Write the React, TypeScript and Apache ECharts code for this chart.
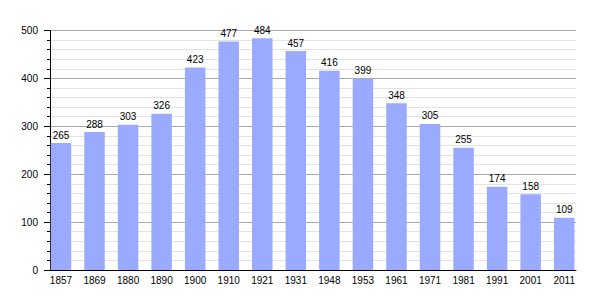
import React, { useEffect, useRef } from "react";
import * as echarts from "echarts";

const years = ["1857", "1869", "1880", "1890", "1900", "1910", "1921", "1931", "1948", "1953", "1961", "1971", "1981", "1991", "2001", "2011"];
const population = [265, 288, 303, 326, 423, 477, 484, 457, 416, 399, 348, 305, 255, 174, 158, 109];
const yMin = 0;
const yMax = 500;
const yInterval = 100;

export default function App() {
  const ref = useRef<HTMLDivElement>(null);
  useEffect(() => {
    if (!ref.current) return;
    const chart = echarts.init(ref.current, undefined, { renderer: "svg" });
    const font = "'Liberation Sans', Arial, Helvetica, sans-serif";
    chart.setOption({
      animation: false,
      backgroundColor: "#ffffff",
      textStyle: { fontFamily: font },
      grid: [
        { left: 50, top: 30.5, width: 526, height: 239.5 },
        { left: 44.2, top: 30.5, width: 536.8, height: 239.5 },
      ],
      xAxis: [
        {
          gridIndex: 0,
          type: "category",
          data: years,
          axisLine: { show: true, lineStyle: { color: "#000", width: 1 } },
          axisTick: { show: false },
          axisLabel: { show: false },
          splitLine: { show: false },
        },
        {
          gridIndex: 1,
          type: "category",
          data: years,
          axisLine: { show: false },
          axisTick: { show: false },
          axisLabel: { show: true, color: "#000", fontSize: 10, margin: 5, fontFamily: font, interval: 0 },
          splitLine: { show: false },
        },
      ],
      yAxis: [
        {
          gridIndex: 0,
          type: "value",
          min: yMin,
          max: yMax,
          interval: yInterval,
          axisLine: { show: true, lineStyle: { color: "#000", width: 1 } },
          axisTick: { show: true, length: 6, lineStyle: { color: "#000" } },
          minorTick: { show: true, splitNumber: 5, length: 3, lineStyle: { color: "#000" } },
          axisLabel: { color: "#000", fontSize: 10, margin: 12, fontFamily: font },
          splitLine: { show: true, lineStyle: { color: "#aaaaaa", width: 1 } },
          minorSplitLine: { show: true, lineStyle: { color: "#e3e3e3", width: 1 } },
        },
        {
          gridIndex: 1,
          type: "value",
          min: yMin,
          max: yMax,
          interval: yInterval,
          show: false,
          splitLine: { show: false },
        },
      ],
      series: [
        {
          type: "bar",
          xAxisIndex: 1,
          yAxisIndex: 1,
          data: population,
          barWidth: 20.5,
          itemStyle: { color: "#99aaff" },
          label: {
            show: true,
            position: "top",
            distance: 3,
            color: "#000",
            fontSize: 10,
            fontFamily: font,
          },
        },
      ],
    });
    return () => chart.dispose();
  }, []);
  return <div ref={ref} style={{ width: 605, height: 300, position: "absolute", left: 0, top: 0 }} />;
}
